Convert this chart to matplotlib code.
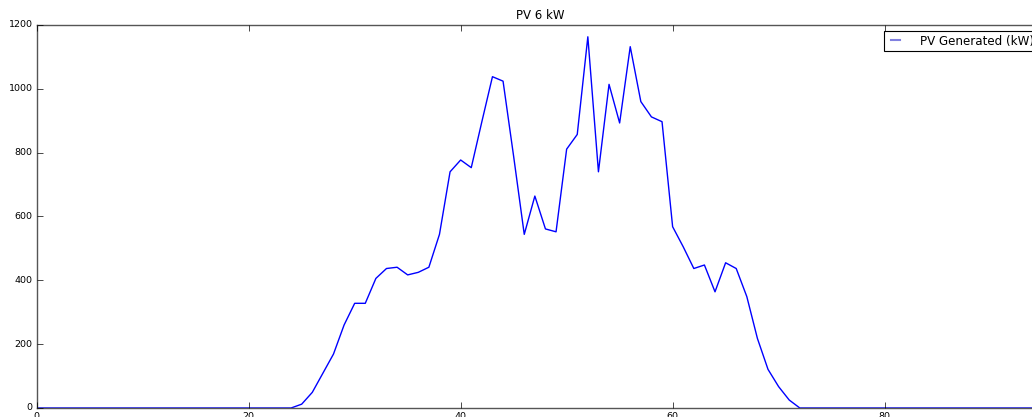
import numpy as np
import matplotlib
matplotlib.use("Agg")
import matplotlib.pyplot as plt

# PV output per 15-minute slot (96 slots)
slots = np.arange(96)
pv_kw = np.zeros(96)
pv_kw[24:73] = [
    0, 12, 49, 109, 169, 260, 328, 328, 406, 437,
    441, 417, 425, 441, 544, 740, 777, 753, 897, 1038,
    1024, 788, 544, 664, 561, 552, 811, 857, 1163, 740,
    1014, 893, 1132, 960, 912, 897, 568, 505, 437, 448,
    364, 455, 437, 349, 218, 121, 67, 25, 0,
]
title = "PV 6 kW"
series_label = "PV Generated (kW)"
x_ticks = [0, 20, 40, 60, 80]
y_ticks = [0, 200, 400, 600, 800, 1000, 1200]

plt.style.use("classic")
fig = plt.figure(figsize=(10.32, 4.17), dpi=100, facecolor="white")
# axes run past the right/bottom edge like the cropped original
ax = fig.add_axes([0.0356, 0.0216, 0.9756, 0.9185])
ax.set_facecolor("white")

ax.plot(slots, pv_kw, color="b", linewidth=1.0, label=series_label)

ax.set_xlim(0, 95)
ax.set_ylim(0, 1200)
ax.set_xticks(x_ticks)
ax.set_yticks(y_ticks)
ax.tick_params(labelsize=6.8, pad=3, direction="in", top=True, right=True,
               length=4, width=0.5)
for sp in ax.spines.values():
    sp.set_color("#555555")
    sp.set_linewidth(1.0)

ax.set_title(title, fontsize=8.5, pad=4)
leg = ax.legend(loc="upper right", fontsize=8.6, frameon=True, fancybox=False,
                borderaxespad=0.5, borderpad=0.3, handlelength=1.3,
                handletextpad=1.4, numpoints=2)
leg.get_frame().set_edgecolor("black")
leg.get_frame().set_linewidth(0.8)
leg.get_lines()[0].set_color("#8080e0")
leg.get_lines()[0].set_linewidth(1.5)

fig.savefig("out.png", dpi=100, facecolor="white")
